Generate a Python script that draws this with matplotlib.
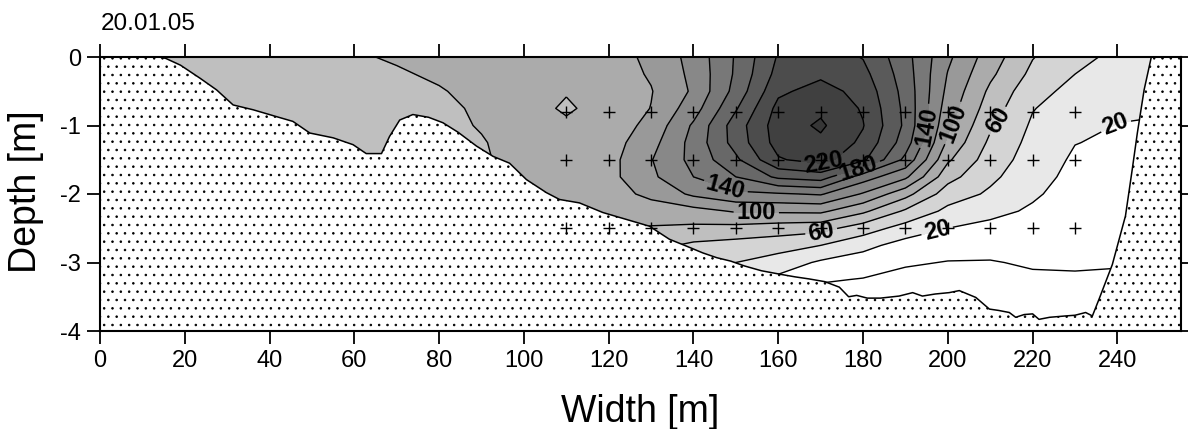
import numpy as np
import matplotlib
matplotlib.use("Agg")
import matplotlib.pyplot as plt
from matplotlib.patches import Polygon
from matplotlib.ticker import MultipleLocator

plt.rcParams['font.family'] = ['Liberation Sans', 'DejaVu Sans']
plt.rcParams['hatch.linewidth'] = 0.6
plt.rcParams['axes.unicode_minus'] = False

# ---------------- data ----------------
title_text = "20.01.05"
x_label = "Width [m]"
y_label = "Depth [m]"

x_nodes = [0, 10, 20, 30, 40, 50, 60, 70, 80, 90, 100, 110, 120, 130, 140,
           150, 160, 170, 180, 190, 200, 210, 220, 230, 240, 250]
depth_nodes = [0, -0.25, -0.5, -0.75, -1.0, -1.25, -1.5, -1.75, -2.0,
               -2.25, -2.5, -2.75, -3.0, -3.25, -3.5, -3.75, -4.0]

# one column of values (surface -> 4 m) per x node
col_000 = [70] * 17
col_010 = [70] * 17
col_020 = [70] * 17
col_030 = [72] * 17
col_040 = [73] * 17
col_050 = [74] * 17
col_060 = [78.5, 77, 76, 76, 76, 75, 75, 75, 75, 75, 75, 75, 75, 75, 75, 75, 75]
col_070 = [81.5, 78.5, 77, 76, 75, 75, 75, 75, 75, 75, 75, 75, 75, 75, 75, 75, 75]
col_080 = [84, 82, 79, 77, 76, 76, 75, 75, 75, 75, 75, 75, 75, 75, 75, 75, 75]
col_090 = [88, 86, 84, 82, 81, 79, 78, 77, 76, 75, 74, 73, 72, 71, 70, 70, 70]
col_100 = [90, 89, 87, 86, 86, 86, 86, 86, 85, 84, 82, 80, 78, 76, 74, 72, 70]
col_110 = [91, 88, 81, 78, 82.5, 86, 88, 89, 89, 87, 84, 80, 76, 72, 68, 64, 60]
col_120 = [92, 90, 88, 86, 88, 91, 93, 94, 93, 89, 84, 78, 72, 66, 60, 55, 50]
col_130 = [104, 102, 99, 100.5, 106, 113, 119, 116, 104, 92, 78, 66, 55, 45, 40, 35, 30]
col_140 = [127, 125, 123, 131, 143, 147, 146, 140, 124, 93, 76, 56, 42, 32, 25, 20, 15]
col_150 = [162, 163, 167, 178, 190, 188, 176, 160, 136, 102, 74, 52, 40, 30, 22, 16, 10]
col_160 = [202, 207, 216, 226, 230, 228, 218, 184, 138, 103, 70, 48, 31, 15, 5, 0, -5]
col_170 = [210, 216, 228, 236, 243, 236, 228, 190, 142, 104, 67, 40, 17, 2, -8, -12, -15]
col_180 = [199, 206, 213, 218, 221, 216, 204, 150, 118, 84, 50, 26, 10, -1, -8, -12, -15]
col_190 = [167, 170, 173, 175, 176, 170, 155, 124, 87, 57, 32, 12, 3, -8, -12, -15, -18]
col_200 = [124, 119, 115, 110, 104, 96, 83, 67, 50, 35, 20, 10, -1, -8, -12, -15, -18]
col_210 = [90, 84, 76, 70, 63, 56, 50, 44, 37, 26, 14, 6, -1, -6, -10, -13, -15]
col_220 = [61, 55, 47, 41, 37, 34, 31.5, 28, 23, 17, 11, 6, 2, -3, -7, -10, -12]
col_230 = [45, 40, 34, 29, 25, 20.5, 17, 14, 11, 9, 7, 5, 2, -2, -5, -8, -10]
col_240 = [36, 32, 27, 23, 19.5, 17, 15, 13, 11, 9, 7, 4, 1, -2, -5, -8, -10]
col_250 = [32, 28, 24, 21, 19, 16, 14, 12, 10, 8, 6, 4, 1, -2, -5, -8, -10]

# river bed (echo sounding profile)
bed_x = [0, 14, 15.5, 19, 23.6, 27.5, 31.4, 36.1, 41.6, 45.5, 49.5, 55, 59.7,
         62.8, 66.4, 68.3, 70.7, 73.8, 77.5, 80.9, 84.5, 88.8, 92.7, 96.6,
         100.6, 105.3, 108.4, 113.1, 118.6, 124.1, 129.6, 134.3, 138.3, 142.2,
         145.5, 148.8, 152, 156, 160.3, 164, 167.3, 171, 174.4, 176.6, 178.5,
         181, 184.1, 188.5, 191.7, 194, 197, 200.3, 202.7, 206.6, 209.8, 212,
         214.5, 216, 218, 220, 221.5, 224, 227.8, 230, 232.5, 234.1, 235.7,
         238.8, 241.9, 243.5, 244.7, 246.3, 248, 255]
bed_z = [0, 0, -0.02, -0.12, -0.31, -0.48, -0.70, -0.77, -0.87, -0.94, -1.11,
         -1.18, -1.28, -1.41, -1.41, -1.16, -0.92, -0.84, -0.88, -0.96, -1.10,
         -1.30, -1.45, -1.55, -1.79, -1.98, -2.08, -2.13, -2.27, -2.37, -2.47,
         -2.66, -2.76, -2.86, -2.93, -2.98, -3.05, -3.12, -3.17, -3.21, -3.24,
         -3.28, -3.36, -3.50, -3.48, -3.52, -3.52, -3.49, -3.44, -3.49, -3.46,
         -3.44, -3.41, -3.51, -3.68, -3.70, -3.73, -3.80, -3.76, -3.75, -3.83,
         -3.80, -3.78, -3.77, -3.73, -3.78, -3.53, -3.03, -2.32, -1.64, -1.11,
         -0.48, 0.0, 0.0]

# measuring points
point_x = [110, 120, 130, 140, 150, 160, 170, 180, 190, 200, 210, 220, 230]
point_depths = [-0.8, -1.5, -2.5]

# contour levels and fill greys
line_levels = [0, 20, 40, 60, 80, 100, 120, 140, 160, 180, 200, 220, 240]
fill_levels = [-100] + line_levels + [300]
fill_colors = ['#ffffff', '#ffffff', '#e8e8e8', '#d4d4d4', '#bfbfbf',
               '#ababab', '#999999', '#888888', '#787878', '#686868',
               '#5a5a5a', '#4c4c4c', '#404040', '#363636']

# label positions (data coordinates)
label_pos = [(239.6, -0.99), (197.4, -2.52), (212, -0.94), (170, -2.52),
             (201, -0.96), (154.8, -2.30), (194.8, -1.01), (147.3, -1.96),
             (179, -1.64), (170.5, -1.50)]

# ---------------- figure ----------------
fig = plt.figure(figsize=(11.88, 4.29), dpi=100)
ax = fig.add_axes([100 / 1188, 1 - 331 / 429, 1081 / 1188, 274 / 429])

cols = [col_000, col_010, col_020, col_030, col_040, col_050, col_060, col_070,
        col_080, col_090, col_100, col_110, col_120, col_130, col_140, col_150,
        col_160, col_170, col_180, col_190, col_200, col_210, col_220, col_230,
        col_240, col_250]
Z = np.array(cols, dtype=float).T
X, Y = np.meshgrid(x_nodes, depth_nodes)

ax.set_xlim(0, 255)
ax.set_ylim(-4, 0)

ax.contourf(X, Y, Z, levels=fill_levels, colors=fill_colors, zorder=1)
cs = ax.contour(X, Y, Z, levels=line_levels, colors='black',
                linewidths=1.0, zorder=2)
lbls = ax.clabel(cs, manual=label_pos, inline=True, inline_spacing=3,
                 fmt='%d', fontsize=17)
for t in lbls:
    t.set_fontweight('bold')
    t.set_zorder(5)

# land
land_x = list(bed_x) + [bed_x[-1] + 5, bed_x[-1] + 5, -5, -5]
land_z = list(bed_z) + [0.2, -4.5, -4.5, 0.2]
land = Polygon(np.column_stack([land_x, land_z]), closed=True,
               facecolor='white', edgecolor='black', linewidth=0,
               hatch='..', zorder=3)
ax.add_patch(land)
ax.plot(bed_x, bed_z, color='black', lw=1.1, zorder=3.5)

# measuring points
for d in point_depths:
    ax.plot(point_x, [d] * len(point_x), linestyle='none', marker='+',
            color='black', markersize=8, mew=1.0, zorder=4)

ax.set_xlim(0, 255)
ax.set_ylim(-4, 0)
ax.set_xticks(np.arange(0, 241, 20))
ax.xaxis.set_minor_locator(MultipleLocator(2))
ax.yaxis.set_major_locator(MultipleLocator(1))
ax.yaxis.set_minor_locator(MultipleLocator(10))
ax.tick_params(which='major', direction='out', length=9.5, width=1.3,
               top=True, right=True, labelsize=17, pad=4)
ax.tick_params(which='minor', direction='in', length=2.5, width=1.0,
               bottom=True, top=False, left=False, right=False)
for sp in ax.spines.values():
    sp.set_linewidth(1.5)
    sp.set_zorder(6)

fig.text(101 / 1188, 1 - 24.5 / 429, title_text, fontsize=17.5,
         ha='left', va='center')
fig.text(0.5 * (100 + 1181) / 1188, 1 - 412 / 429, x_label, fontsize=27,
         ha='center', va='center')
fig.text(26 / 1188, 1 - 192 / 429, y_label, fontsize=27, rotation=90,
         ha='center', va='center')

fig.savefig("out.png", dpi=100)
